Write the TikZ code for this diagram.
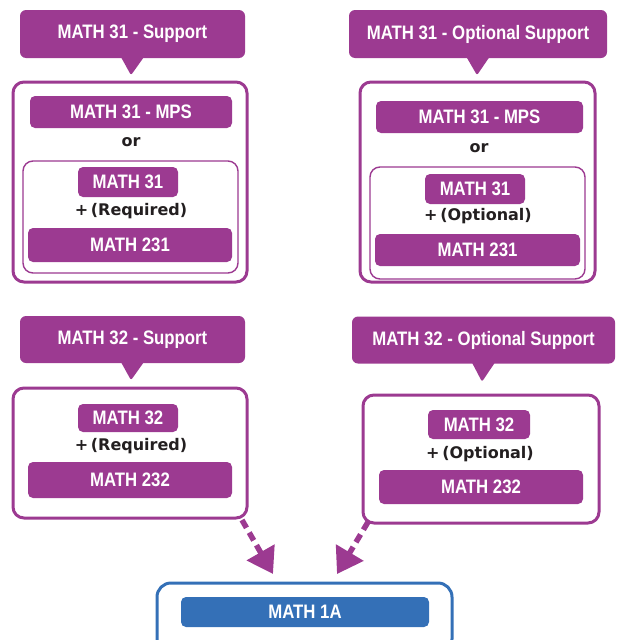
\documentclass[tikz,border=0pt]{standalone}
\usepackage{fontspec}
\setmainfont{Liberation Sans}
\newfontfamily\condfont[FakeStretch=0.86]{Liberation Sans}
\newfontfamily\plainfont{DejaVu Sans}
\usetikzlibrary{arrows.meta}
\definecolor{mpurple}{HTML}{9C3A91}
\definecolor{mblue}{HTML}{3470B7}
\definecolor{mtext}{HTML}{231F20}
\tikzset{
  callout/.style={fill=mpurple, rounded corners=6pt, inner sep=0pt, text=white,
    font=\condfont\bfseries\fontsize{19.5}{21}\selectfont},
  outerbox/.style={draw=mpurple, line width=3pt, rounded corners=11pt, inner sep=0pt, fill=white},
  innerbox/.style={draw=mpurple, line width=1.4pt, rounded corners=10pt, inner sep=0pt},
  bar/.style={fill=mpurple, rounded corners=5pt, inner sep=0pt, text=white,
    font=\condfont\bfseries\fontsize{19.5}{21}\selectfont},
  conj/.style={text=mtext, inner sep=0pt, font=\plainfont\bfseries\fontsize{16}{18}\selectfont},
  tail/.style={fill=mpurple, rounded corners=2pt},
  flow/.style={draw=mpurple, line width=5.5pt, dash pattern=on 9pt off 5.5pt,
    -{Triangle[length=25pt,width=31pt]}}
}
\begin{document}
\begin{tikzpicture}[x=1pt,y=-1pt]
\useasboundingbox (0,0) rectangle (624,640);
\clip (0,0) rectangle (624,640);

% ---------- top left ----------
\node[callout, minimum width=225pt, minimum height=48pt] (call1) at (132.5,34) {MATH 31 - Support};
\fill[tail] ([xshift=-12pt,yshift=2pt]call1.south) -- ([xshift=-1.5pt,yshift=-17pt]call1.south) -- ([xshift=12pt,yshift=2pt]call1.south) -- cycle;
\node[outerbox, minimum width=234pt, minimum height=200pt] (box1) at (130,182) {};
\node[bar, minimum width=202pt, minimum height=32pt] (mps1) at (131,112) {MATH 31 - MPS};
\node[conj] (or1) at (131,142) {or};
\node[innerbox, minimum width=215pt, minimum height=112pt] (inner1) at (130.5,217) {};
\node[bar, minimum width=100pt, minimum height=30pt] (m31a) at (128,182) {MATH 31};
\node[conj] (req1) at (131,211) {+\,(Required)};
\node[bar, minimum width=204pt, minimum height=34pt] (m231a) at (130,245) {MATH 231};

% ---------- top right ----------
\node[callout, minimum width=258pt, minimum height=48pt] (call2) at (478,34) {MATH 31 - Optional Support};
\fill[tail] ([xshift=-12pt,yshift=2pt]call2.south) -- ([xshift=-1pt,yshift=-17pt]call2.south) -- ([xshift=12pt,yshift=2pt]call2.south) -- cycle;
\node[outerbox, minimum width=235pt, minimum height=200pt] (box2) at (477.5,182) {};
\node[bar, minimum width=207pt, minimum height=32pt] (mps2) at (479.5,117) {MATH 31 - MPS};
\node[conj] (or2) at (479,148) {or};
\node[innerbox, minimum width=215pt, minimum height=112pt] (inner2) at (477.5,223) {};
\node[bar, minimum width=100pt, minimum height=30pt] (m31b) at (475,189) {MATH 31};
\node[conj] (opt1) at (478,216) {+\,(Optional)};
\node[bar, minimum width=205pt, minimum height=32pt] (m231b) at (477.5,250) {MATH 231};

% ---------- middle left ----------
\node[callout, minimum width=225pt, minimum height=47pt] (call3) at (132.5,339.5) {MATH 32 - Support};
\fill[tail] ([xshift=-12pt,yshift=2pt]call3.south) -- ([xshift=-1.5pt,yshift=-17pt]call3.south) -- ([xshift=12pt,yshift=2pt]call3.south) -- cycle;
\node[outerbox, minimum width=234pt, minimum height=130pt] (box3) at (130,453) {};
\node[bar, minimum width=100pt, minimum height=28pt] (m32a) at (128,418) {MATH 32};
\node[conj] (req2) at (131,446) {+\,(Required)};
\node[bar, minimum width=204pt, minimum height=36pt] (m232a) at (130,480) {MATH 232};

% ---------- middle right ----------
\node[callout, minimum width=263pt, minimum height=47pt] (call4) at (483.5,340) {MATH 32 - Optional Support};
\fill[tail] ([xshift=-12pt,yshift=2pt]call4.south) -- ([xshift=-1.5pt,yshift=-18pt]call4.south) -- ([xshift=12pt,yshift=2pt]call4.south) -- cycle;
\node[outerbox, minimum width=236pt, minimum height=128pt] (box4) at (481,459) {};
\node[bar, minimum width=102pt, minimum height=29pt] (m32b) at (479,424.5) {MATH 32};
\node[conj] (opt2) at (480,454) {+\,(Optional)};
\node[bar, minimum width=204pt, minimum height=34pt] (m232b) at (481,487) {MATH 232};

% ---------- bottom ----------
\node[draw=mblue, line width=3pt, rounded corners=14pt, inner sep=0pt, minimum width=295pt, minimum height=70pt] (box5) at (304.5,618) {};
\node[fill=mblue, rounded corners=5pt, inner sep=0pt, text=white, minimum width=248pt, minimum height=30pt,
  font=\condfont\bfseries\fontsize{19.5}{21}\selectfont] (m1a) at (305,612) {MATH 1A};

% ---------- arrows ----------
\coordinate (a1s) at (242,520);
\coordinate (a1e) at (273,574);
\coordinate (a2s) at (368,522);
\coordinate (a2e) at (337,574);
\draw[flow] (a1s) -- (a1e);
\draw[flow] (a2s) -- (a2e);
\end{tikzpicture}
\end{document}
